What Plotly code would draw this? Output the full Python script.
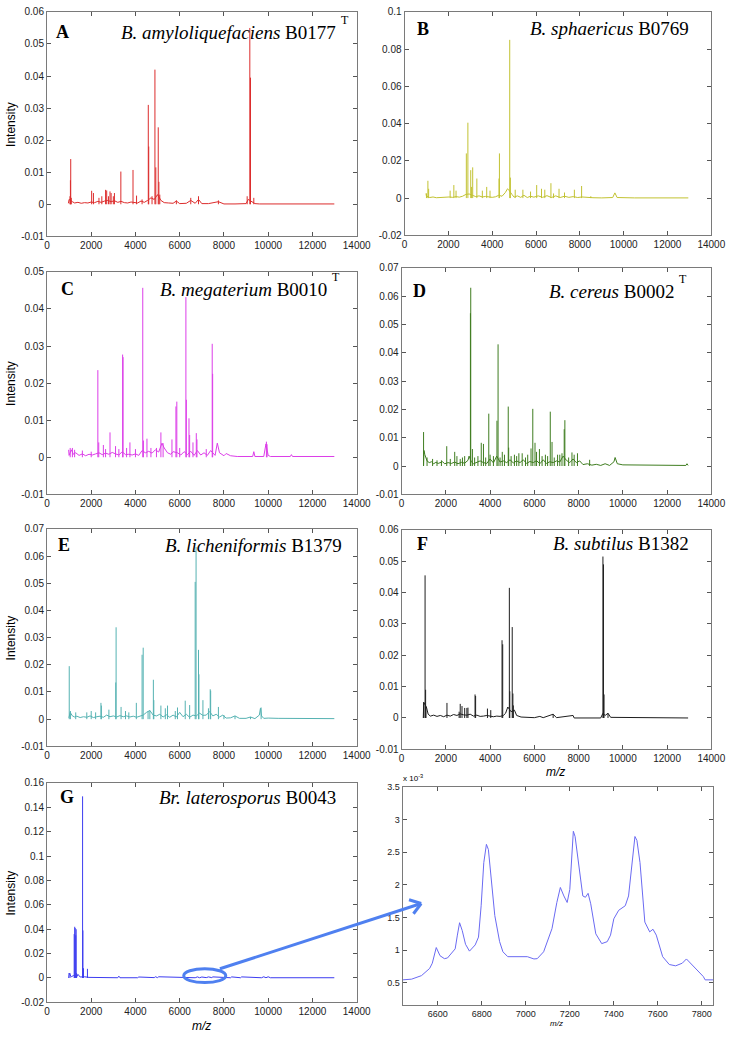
import math
import plotly.graph_objects as go

# ---------------- DATA ----------------
# Panel A  B. amyloliquefaciens B0177T
A_base_mz = [970, 1000, 1150, 1250, 1400, 1550, 1700, 1850, 2000, 2150,
             2300, 2450, 2600, 2750, 2900, 3050, 3200, 3350, 3500, 3650,
             3800, 3950, 4100, 4250, 4400, 4550, 4700, 4850, 5000, 5150,
             5300, 5500, 5700, 5850, 6000, 6300, 6500, 6700, 6850, 7000,
             7300, 7750, 8000, 8500, 9000, 9100, 9300, 9400, 9600, 10500,
             11500, 12990]
A_base_int = [0.0003, 0.0015, 0.0008, 0.0004, 0.0006, 0.0003, 0.0005, 0.0004, 0.0007, 0.0005,
              0.0009, 0.0006, 0.0010, 0.0012, 0.0008, 0.0011, 0.0006, 0.0009, 0.0005, 0.0004,
              0.0007, 0.0005, 0.0004, 0.0010, 0.0006, 0.0012, 0.0020, 0.0015, 0.0030, 0.0012,
              0.0005, 0.0004, 0.0003, 0.0010, 0.0002, 0.0003, 0.0012, 0.0003, 0.0015, 0.0002,
              0.0002, 0.0008, 0.0001, 0.0001, 0.0002, 0.0015, 0.0006, 0.0002, 0.0001, 0.0001,
              0.0001, 0.0001]
A_pk_mz = [1040, 1060, 1074, 1100, 2020, 2100, 2350, 2480, 2650, 2700, 2780, 2850,
           2900, 3000, 3050, 3340, 3890, 4050, 4300, 4580, 4600, 4750, 4880, 4920,
           5030, 5060, 5100, 5850, 6500, 6850, 7750, 9050, 9170, 9200, 9350]
A_pk_int = [0.0025, 0.0075, 0.0141, 0.002, 0.0042, 0.0035, 0.002, 0.0025, 0.0045, 0.0043, 0.0025, 0.004,
            0.0035, 0.0025, 0.0035, 0.0102, 0.0107, 0.0027, 0.0015, 0.031, 0.018, 0.0025, 0.042, 0.0115,
            0.024, 0.007, 0.003, 0.0012, 0.002, 0.0025, 0.0012, 0.0025, 0.055, 0.0395, 0.002]

# Panel B  B. sphaericus B0769
B_base_mz = [980, 1000, 1150, 1300, 1450, 1600, 1750, 1900, 2050, 2200,
             2350, 2500, 2650, 2800, 2950, 3100, 3250, 3400, 3550, 3700,
             3850, 4000, 4150, 4300, 4450, 4600, 4700, 4750, 4900, 5000,
             5150, 5300, 5450, 5600, 5750, 5900, 6100, 6300, 6500, 6700,
             6900, 7100, 7300, 7500, 7700, 7900, 8100, 8300, 8600, 9000,
             9500, 9600, 9700, 10500, 11200, 12950]
B_base_int = [0.0025, 0.001, 0.0003, 0.0006, 0.0002, 0.0004, 0.0003, 0.0005, 0.0006, 0.0004,
              0.0008, 0.0005, 0.001, 0.002, 0.0022, 0.0015, 0.0008, 0.0012, 0.0006, 0.0009,
              0.0005, 0.0004, 0.0007, 0.0015, 0.001, 0.003, 0.005, 0.0045, 0.002, 0.0005,
              0.0012, 0.0004, 0.0015, 0.0003, 0.001, 0.0005, 0.0012, 0.0004, 0.0013, 0.0003,
              0.0012, 0.0003, 0.001, 0.0004, 0.0008, 0.0003, 0.0006, 0.0003, 0.0002, 0.0001,
              0.0003, 0.0028, 0.0003, 0.0001, 0.0002, 0.0001]
B_pk_mz = [1000, 1066, 1100, 2080, 2250, 2350, 2820, 2890, 3020, 3060, 3110, 3300,
           3550, 3750, 3900, 4310, 4330, 4800, 4830, 5050, 5400, 5750, 6030, 6250,
           6400, 6680, 6800, 7050, 7300, 7750, 8080, 8500]
B_pk_int = [0.0025, 0.0093, 0.005, 0.004, 0.007, 0.004, 0.024, 0.0405, 0.015, 0.006, 0.0165, 0.0105,
            0.004, 0.006, 0.004, 0.0105, 0.024, 0.085, 0.011, 0.0045, 0.0045, 0.0035, 0.007, 0.005,
            0.0045, 0.008, 0.0025, 0.005, 0.003, 0.0045, 0.0065, 0.001]

# Panel C  B. megaterium B0010T
C_base_mz = [980, 1000, 1100, 1200, 1300, 1450, 1600, 1750, 1900, 2050,
             2200, 2350, 2500, 2650, 2800, 2950, 3100, 3250, 3400, 3550,
             3700, 3850, 4000, 4150, 4300, 4450, 4600, 4750, 4900, 5050,
             5200, 5300, 5450, 5600, 5700, 5900, 6050, 6200, 6350, 6500,
             6650, 6800, 6950, 7100, 7250, 7400, 7600, 7700, 7800, 8000,
             8100, 8300, 8600, 9300, 9350, 9400, 9800, 9900, 10000, 10100,
             11000, 11050, 11100, 12990]
C_base_int = [0.002, 0.0005, 0.002, 0.0008, 0.0012, 0.0005, 0.0009, 0.0004, 0.0008, 0.0006,
              0.0009, 0.0012, 0.0007, 0.0011, 0.0008, 0.0013, 0.0009, 0.0006, 0.0015, 0.0007,
              0.0008, 0.0006, 0.0009, 0.0005, 0.0018, 0.0012, 0.0016, 0.0011, 0.002, 0.0014,
              0.0038, 0.0025, 0.0012, 0.0008, 0.0015, 0.0012, 0.0006, 0.0015, 0.0007, 0.0016,
              0.0005, 0.0018, 0.0006, 0.0012, 0.0005, 0.0018, 0.0005, 0.0038, 0.0012, 0.0004,
              0.001, 0.0004, 0.0002, 0.0002, 0.0015, 0.0002, 0.0002, 0.0036, 0.0005, 0.0002,
              0.0002, 0.0007, 0.0002, 0.0002]
C_pk_mz = [1050, 1150, 1250, 1600, 2000, 2300, 2340, 2550, 2650, 2850, 3100, 3250,
           3420, 3440, 3600, 3750, 4000, 4330, 4360, 4520, 4700, 4950, 5150, 5250,
           5650, 5830, 5870, 6000, 6280, 6300, 6420, 6450, 6600, 6750, 6780, 7200,
           7470, 7490, 9920, 9950]
C_pk_int = [0.0025, 0.0025, 0.002, 0.0018, 0.0015, 0.0235, 0.004, 0.0033, 0.0022, 0.0067, 0.003, 0.0022,
            0.0277, 0.027, 0.0025, 0.004, 0.0022, 0.0457, 0.0045, 0.005, 0.0025, 0.0025, 0.0067, 0.0038,
            0.0048, 0.0137, 0.015, 0.0025, 0.0432, 0.0155, 0.0105, 0.006, 0.004, 0.0065, 0.0048, 0.0022,
            0.0306, 0.0225, 0.0042, 0.0035]

# Panel D  B. cereus B0002T
D_base_mz = [990, 1010, 1050, 1100, 1150, 1250, 1350, 1450, 1550, 1650,
             1750, 1850, 1950, 2100, 2250, 2400, 2550, 2700, 2850, 3000,
             3050, 3150, 3250, 3400, 3550, 3700, 3850, 4000, 4150, 4300,
             4450, 4600, 4750, 4900, 5050, 5200, 5350, 5500, 5650, 5800,
             5950, 6100, 6250, 6400, 6550, 6700, 6850, 7000, 7150, 7300,
             7450, 7600, 7750, 7900, 8050, 8200, 8400, 8600, 8800, 9000,
             9200, 9400, 9600, 9650, 9750, 10000, 11150, 12850, 12900, 12950]
D_base_int = [0.0, 0.0055, 0.004, 0.0025, 0.0018, 0.0012, 0.0015, 0.0008, 0.0013, 0.0009,
              0.0012, 0.0015, 0.0008, 0.0012, 0.0009, 0.0014, 0.0008, 0.0013, 0.001, 0.002,
              0.0035, 0.0015, 0.0008, 0.0012, 0.0018, 0.0012, 0.0009, 0.0025, 0.0011, 0.0035,
              0.0014, 0.0018, 0.0012, 0.0022, 0.0011, 0.0018, 0.0012, 0.0022, 0.0009, 0.0016,
              0.0012, 0.0019, 0.0008, 0.0022, 0.0009, 0.0015, 0.0012, 0.0018, 0.0014, 0.0035,
              0.002, 0.0012, 0.0025, 0.0012, 0.0018, 0.0005, 0.0008, 0.0003, 0.0006, 0.0002,
              0.0008, 0.0002, 0.0015, 0.003, 0.0008, 0.0004, 0.0003, 0.0002, 0.0008, 0.0002]
D_pk_mz = [992, 1150, 1400, 1600, 1800, 2040, 2200, 2400, 2500, 2650, 2750, 2850,
           3110, 3125, 3200, 3300, 3450, 3600, 3700, 3800, 3940, 4000, 4150, 4310,
           4360, 4450, 4550, 4650, 4820, 4840, 4950, 5100, 5200, 5300, 5450, 5600,
           5700, 5850, 5930, 6030, 6100, 6230, 6350, 6500, 6600, 6720, 6800, 6900,
           7050, 7150, 7250, 7350, 7380, 7550, 7700, 7800, 7950, 8500]
D_pk_int = [0.012, 0.003, 0.0025, 0.002, 0.002, 0.007, 0.0025, 0.005, 0.0035, 0.0025, 0.003, 0.0035,
            0.054, 0.063, 0.006, 0.003, 0.0035, 0.0082, 0.0078, 0.003, 0.0185, 0.004, 0.0035, 0.016,
            0.043, 0.003, 0.005, 0.004, 0.021, 0.0065, 0.0035, 0.004, 0.0035, 0.0045, 0.0045, 0.003,
            0.004, 0.0062, 0.0202, 0.0082, 0.005, 0.006, 0.0035, 0.004, 0.0035, 0.0192, 0.0085, 0.003,
            0.004, 0.004, 0.0045, 0.013, 0.0162, 0.003, 0.0048, 0.004, 0.0045, 0.0022]

# Panel E  B. licheniformis B1379
E_base_mz = [990, 1050, 1150, 1250, 1350, 1500, 1650, 1800, 1950, 2100,
             2250, 2400, 2550, 2700, 2850, 3000, 3150, 3300, 3450, 3600,
             3750, 3900, 4050, 4200, 4350, 4500, 4650, 4800, 4950, 5100,
             5250, 5400, 5550, 5700, 5850, 6000, 6150, 6300, 6450, 6600,
             6750, 6900, 7050, 7200, 7350, 7500, 7650, 7800, 7950, 8100,
             8300, 8500, 8700, 9000, 9200, 9400, 9600, 9650, 9700, 9800,
             10000, 10450, 12990]
E_base_int = [0.0005, 0.0025, 0.0012, 0.0008, 0.0011, 0.0006, 0.0009, 0.0007, 0.0012, 0.0006,
              0.0009, 0.0011, 0.0007, 0.0015, 0.0009, 0.0012, 0.0008, 0.0013, 0.0009, 0.0012,
              0.0008, 0.0011, 0.0007, 0.0012, 0.0015, 0.0025, 0.0032, 0.0015, 0.0012, 0.0018,
              0.0008, 0.0016, 0.0007, 0.0015, 0.0008, 0.0025, 0.0009, 0.0018, 0.0007, 0.0015,
              0.0012, 0.0022, 0.0014, 0.0015, 0.0028, 0.0012, 0.0018, 0.0008, 0.0015, 0.0004,
              0.0005, 0.0012, 0.0003, 0.0003, 0.0008, 0.0002, 0.0015, 0.004, 0.0012, 0.0003,
              0.0004, 0.0003, 0.0002]
E_pk_mz = [1007, 1060, 1300, 1800, 2000, 2200, 2440, 2460, 2800, 3110, 3125, 3350,
           3550, 3700, 4040, 4300, 4350, 4570, 4650, 4810, 4830, 5150, 5350, 5450,
           5800, 5900, 6250, 6450, 6700, 6740, 6850, 6870, 7050, 7300, 7380, 7400,
           7750, 8000, 8500, 9200, 9680]
E_pk_int = [0.0195, 0.003, 0.0025, 0.0025, 0.003, 0.0025, 0.006, 0.005, 0.0035, 0.0135, 0.0338, 0.0045,
            0.003, 0.0025, 0.006, 0.0237, 0.0263, 0.003, 0.0032, 0.0145, 0.007, 0.005, 0.004, 0.005,
            0.003, 0.0043, 0.0068, 0.0052, 0.0505, 0.0633, 0.0255, 0.0165, 0.007, 0.004, 0.011, 0.0105,
            0.0045, 0.0015, 0.0012, 0.0008, 0.0043]

# Panel F  B. subtilus B1382
F_base_mz = [980, 1000, 1120, 1200, 1300, 1450, 1600, 1750, 1900, 2050,
             2200, 2350, 2500, 2650, 2800, 2950, 3100, 3250, 3400, 3550,
             3700, 3850, 4000, 4150, 4300, 4450, 4600, 4700, 4800, 4950,
             5100, 5200, 5400, 5700, 6000, 6250, 6400, 6850, 7000, 7750,
             7800, 9000, 9100, 9200, 9330, 9450, 9900, 12950]
F_base_int = [0.0, 0.005, 0.0035, 0.0012, 0.0006, 0.0009, 0.0005, 0.0008, 0.0004, 0.0009,
              0.0006, 0.0011, 0.0008, 0.0013, 0.001, 0.0009, 0.0012, 0.0006, 0.0009, 0.0005,
              0.0006, 0.0008, 0.0006, 0.0004, 0.0006, 0.0005, 0.0008, 0.0015, 0.0035, 0.002,
              0.0025, 0.0008, 0.0003, 0.0002, 0.0001, 0.0005, 0.0001, 0.0012, 0.0001, 0.0008,
              0.0, 0.0, 0.0015, 0.0008, 0.0015, 0.0002, 0.0002, 0.0]
F_pk_mz = [1000, 1060, 1085, 1100, 2050, 2600, 2650, 2730, 2850, 2950, 3000, 3320,
           3345, 3880, 4030, 4540, 4570, 4870, 4890, 5000, 5030, 5050, 6850, 9100,
           9125, 9150, 9330]
F_pk_int = [0.005, 0.0455, 0.009, 0.0035, 0.0048, 0.002, 0.0045, 0.0038, 0.0032, 0.0032, 0.0033, 0.0075,
            0.007, 0.003, 0.0025, 0.0248, 0.0235, 0.0415, 0.0085, 0.029, 0.0078, 0.004, 0.0012, 0.0515,
            0.049, 0.0075, 0.0015]

# Panel G  Br. laterosporus B0043
G_base_mz = [980, 1000, 1100, 1200, 1350, 1400, 1500, 1700, 1900, 2100,
             3200, 3250, 3300, 4100, 4150, 4850, 4900, 5000, 5050, 6700,
             6800, 6900, 7000, 7200, 7300, 7450, 7500, 8300, 8350, 8750,
             8800, 9700, 9800, 9900, 10000, 10100, 12990]
G_base_int = [0.0, 0.004, 0.001, 0.002, 0.001, 0.003, 0.0008, 0.001, 0.0005, 0.0005,
              0.0002, 0.0015, 0.0002, 0.0002, 0.0008, 0.0003, 0.001, 0.0003, 0.001, 0.0002,
              0.0009, 0.0002, 0.0008, 0.0003, 0.0009, 0.0003, 0.0009, 0.0002, 0.0009, 0.0002,
              0.0009, 0.0002, 0.001, 0.0002, 0.001, 0.0002, 0.0002]
G_pk_mz = [1040, 1230, 1255, 1275, 1300, 1320, 1340, 1610, 1625, 1650, 1830]
G_pk_int = [0.004, 0.036, 0.042, 0.041, 0.035, 0.04, 0.004, 0.149, 0.039, 0.008, 0.0075]

# Inset H: zoom of G between ~6440 and ~7850 (intensity in units of 1e-3)
H_mz = [6440, 6481, 6526, 6563, 6575, 6593, 6610, 6630, 6644, 6667,
        6679, 6689, 6699, 6711, 6726, 6744, 6770, 6785, 6797, 6809,
        6821, 6830, 6844, 6859, 6881, 6896, 6918, 7007, 7037, 7052,
        7081, 7119, 7141, 7157, 7173, 7188, 7200, 7209, 7216, 7224,
        7239, 7259, 7271, 7283, 7295, 7318, 7345, 7370, 7385, 7400,
        7422, 7452, 7467, 7481, 7496, 7505, 7519, 7541, 7563, 7578,
        7593, 7622, 7652, 7681, 7711, 7730, 7748, 7807, 7815, 7852]
H_int_e3 = [0.545, 0.556, 0.61, 0.72, 0.80, 1.04, 0.915, 0.87, 0.88, 0.975,
            1.02, 1.23, 1.42, 1.30, 1.09, 0.985, 1.08, 1.20, 1.68, 2.34,
            2.62, 2.54, 2.04, 1.53, 1.13, 0.975, 0.90, 0.90, 0.865, 0.87,
            0.975, 1.33, 1.73, 1.96, 1.83, 1.73, 1.93, 2.49, 2.82, 2.74,
            2.34, 1.83, 1.81, 1.87, 1.71, 1.25, 1.10, 1.13, 1.23, 1.48,
            1.61, 1.68, 1.83, 2.29, 2.74, 2.68, 2.34, 1.43, 1.28, 1.32,
            1.23, 0.90, 0.78, 0.76, 0.80, 0.865, 0.80, 0.595, 0.545, 0.545]

# Tick labels
X_TICKS = [0, 2000, 4000, 6000, 8000, 10000, 12000, 14000]
X_TICKTEXT = ['0', '2000', '4000', '6000', '8000', '10000', '12000', '14000']
Y_TICKS_A = [-0.01, 0, 0.01, 0.02, 0.03, 0.04, 0.05, 0.06]
Y_TEXT_A = ['-0.01', '0', '0.01', '0.02', '0.03', '0.04', '0.05', '0.06']
Y_TICKS_B = [-0.02, 0, 0.02, 0.04, 0.06, 0.08, 0.1]
Y_TEXT_B = ['-0.02', '0', '0.02', '0.04', '0.06', '0.08', '0.1']
Y_TICKS_C = [-0.01, 0, 0.01, 0.02, 0.03, 0.04, 0.05]
Y_TEXT_C = ['-0.01', '0', '0.01', '0.02', '0.03', '0.04', '0.05']
Y_TICKS_D = [-0.01, 0, 0.01, 0.02, 0.03, 0.04, 0.05, 0.06, 0.07]
Y_TEXT_D = ['-0.01', '0', '0.01', '0.02', '0.03', '0.04', '0.05', '0.06', '0.07']
Y_TICKS_G = [-0.02, 0, 0.02, 0.04, 0.06, 0.08, 0.1, 0.12, 0.14, 0.16]
Y_TEXT_G = ['-0.02', '0', '0.02', '0.04', '0.06', '0.08', '0.1', '0.12', '0.14', '0.16']
H_X_TICKS = [6600, 6800, 7000, 7200, 7400, 7600, 7800]
H_X_TEXT = ['6600', '6800', '7000', '7200', '7400', '7600', '7800']
H_Y_TICKS = [0.5, 1, 1.5, 2, 2.5, 3, 3.5]
H_Y_TEXT = ['0.5', '1', '1.5', '2', '2.5', '3', '3.5']

# ---------------- FIGURE ----------------
W, H = 739, 1040


def px(x):
    return x / W


def py(y):
    return 1 - y / H


panels = [
    ('A', A_base_mz, A_base_int, A_pk_mz, A_pk_int, '#dc2c2c', (45, 362), (6, 233), [-0.01, 0.06], Y_TICKS_A, Y_TEXT_A),
    ('B', B_base_mz, B_base_int, B_pk_mz, B_pk_int, '#c2c232', (411, 725), (6, 232), [-0.02, 0.1], Y_TICKS_B, Y_TEXT_B),
    ('C', C_base_mz, C_base_int, C_pk_mz, C_pk_int, '#dc3ee8', (45, 362), (269, 494), [-0.01, 0.05], Y_TICKS_C, Y_TEXT_C),
    ('D', D_base_mz, D_base_int, D_pk_mz, D_pk_int, '#3f7d20', (408, 725), (265, 494), [-0.01, 0.07], Y_TICKS_D, Y_TEXT_D),
    ('E', E_base_mz, E_base_int, E_pk_mz, E_pk_int, '#55b2b2', (45, 362), (529, 749), [-0.01, 0.07], Y_TICKS_D, Y_TEXT_D),
    ('F', F_base_mz, F_base_int, F_pk_mz, F_pk_int, '#1e1e1e', (408, 725), (530, 752), [-0.01, 0.06], Y_TICKS_A, Y_TEXT_A),
    ('G', G_base_mz, G_base_int, G_pk_mz, G_pk_int, '#3c3cf0', (45, 362), (786, 1008), [-0.02, 0.16], Y_TICKS_G, Y_TEXT_G),
]

fig = go.Figure()
layout = dict(width=W, height=H, autosize=False, margin=dict(l=0, r=0, t=0, b=0, pad=0),
              paper_bgcolor='white', plot_bgcolor='white', showlegend=False)

axis_common = dict(showline=True, linecolor='#7a7a7a', linewidth=1, mirror='ticks',
                   ticks='inside', ticklen=4, tickcolor='#555555', tickwidth=1,
                   showgrid=False, zeroline=False, fixedrange=True,
                   tickfont=dict(family='Liberation Sans, Arial', size=10, color='#222222'))

for i, (key, bmz, bint, pmz, pint, col, xr, yr, yrange, yt, ytt) in enumerate(panels):
    n = i + 1
    xa = 'x' if n == 1 else f'x{n}'
    ya = 'y' if n == 1 else f'y{n}'
    fig.add_trace(go.Scatter(x=bmz, y=bint, mode='lines', xaxis=xa, yaxis=ya,
                             line=dict(color=col, width=1), hoverinfo='skip'))
    sx, sy = [], []
    for m, h in zip(pmz, pint):
        sx += [m, m, None]
        sy += [0, h, None]
    fig.add_trace(go.Scatter(x=sx, y=sy, mode='lines', xaxis=xa, yaxis=ya,
                             line=dict(color=col, width=1), hoverinfo='skip', connectgaps=False))
    layout[f'xaxis{"" if n == 1 else n}'] = dict(axis_common, domain=[px(xr[0]), px(xr[1])],
                                                  range=[0, 14000], tickvals=X_TICKS, ticktext=X_TICKTEXT,
                                                  anchor=ya)
    layout[f'yaxis{"" if n == 1 else n}'] = dict(axis_common, domain=[py(yr[1]), py(yr[0])],
                                                  range=yrange, tickvals=yt, ticktext=ytt, anchor=xa)

fig.add_trace(go.Scatter(x=H_mz, y=H_int_e3, mode='lines', xaxis='x8', yaxis='y8',
                         line=dict(color='#6a6af2', width=1), hoverinfo='skip'))
inset_font = dict(family='Liberation Sans, Arial', size=9, color='#222222')
layout['xaxis8'] = dict(axis_common, domain=[px(409), px(727)], range=[6440, 7852],
                        tickvals=H_X_TICKS, ticktext=H_X_TEXT, anchor='y8', tickfont=inset_font)
layout['yaxis8'] = dict(axis_common, domain=[py(1011), py(790)], range=[0.155, 3.5],
                        tickvals=H_Y_TICKS, ticktext=H_Y_TEXT, anchor='x8', tickfont=inset_font)

fig.update_layout(**layout)

# ---------------- TEXT ----------------
serif = 'Liberation Serif, Times New Roman, serif'
sans = 'Liberation Sans, Arial, sans-serif'
ann = []


def add_text(x, y, text, size, family=serif, xanchor='left', yanchor='middle', angle=0, color='#000000'):
    ann.append(dict(x=px(x), y=py(y), xref='paper', yref='paper', text=text, showarrow=False,
                    xanchor=xanchor, yanchor=yanchor, textangle=angle,
                    font=dict(family=family, size=size, color=color)))


letters = [('A', 52, 26), ('B', 422, 23), ('C', 57, 286), ('D', 418, 288),
           ('E', 54, 545), ('F', 422, 544), ('G', 56, 800)]
for t, x, y in letters:
    add_text(x, y, f'<b>{t}</b>', 18)

species = [('<i>B. amyloliquefaciens</i> B0177', 343, 27, True),
           ('<i>B. sphaericus</i> B0769', 704, 23, False),
           ('<i>B. megaterium</i> B0010', 334, 287, True),
           ('<i>B. cereus</i> B0002', 689, 289, True),
           ('<i>B. licheniformis</i> B1379', 349, 546, False),
           ('<i>B. subtilus</i> B1382', 704, 544, False),
           ('<i>Br. laterosporus</i> B0043', 343, 801, False)]
for t, x, y, sup in species:
    add_text(x, y, t, 19, xanchor='right')
    if sup:
        add_text(x + 1, y - 13, 'T', 12)

for yc in [(6 + 233) / 2, (269 + 494) / 2, (529 + 749) / 2, (786 + 1008) / 2]:
    add_text(8, yc, 'Intensity', 12, family=sans, xanchor='center', angle=-90)

add_text(566, 775, '<i>m/z</i>', 12, family=sans, xanchor='center')
add_text(203, 1032, '<i>m/z</i>', 12, family=sans, xanchor='center')
add_text(567, 1029, '<i>m/z</i>', 8, family=sans, xanchor='center')
add_text(407, 781, 'x 10<sup>-3</sup>', 8, family=sans)

fig.update_layout(annotations=ann)

# ---------------- ELLIPSE + ARROW ----------------
blue = '#4f80f0'
shapes = [dict(type='circle', xref='paper', yref='paper', x0=px(185), x1=px(228),
               y0=py(988), y1=py(974), line=dict(color=blue, width=3))]
tail = (222, 974)
tip = (428, 908)
dx, dy = tip[0] - tail[0], tip[1] - tail[1]
L = math.hypot(dx, dy)
ux, uy = -dx / L, -dy / L
shapes.append(dict(type='line', xref='paper', yref='paper', x0=px(tail[0]), y0=py(tail[1]),
                   x1=px(tip[0]), y1=py(tip[1]), line=dict(color=blue, width=3)))
for ang in (35, -35):
    a = math.radians(ang)
    rx = ux * math.cos(a) - uy * math.sin(a)
    ry = ux * math.sin(a) + uy * math.cos(a)
    shapes.append(dict(type='line', xref='paper', yref='paper', x0=px(tip[0]), y0=py(tip[1]),
                       x1=px(tip[0] + 13 * rx), y1=py(tip[1] + 13 * ry),
                       line=dict(color=blue, width=3)))
fig.update_layout(shapes=shapes)

fig.write_html('out.html', config={'displayModeBar': False, 'staticPlot': True},
               post_script="document.body.style.margin='0';document.body.style.padding='0';"
                           "document.body.style.overflow='hidden';")
